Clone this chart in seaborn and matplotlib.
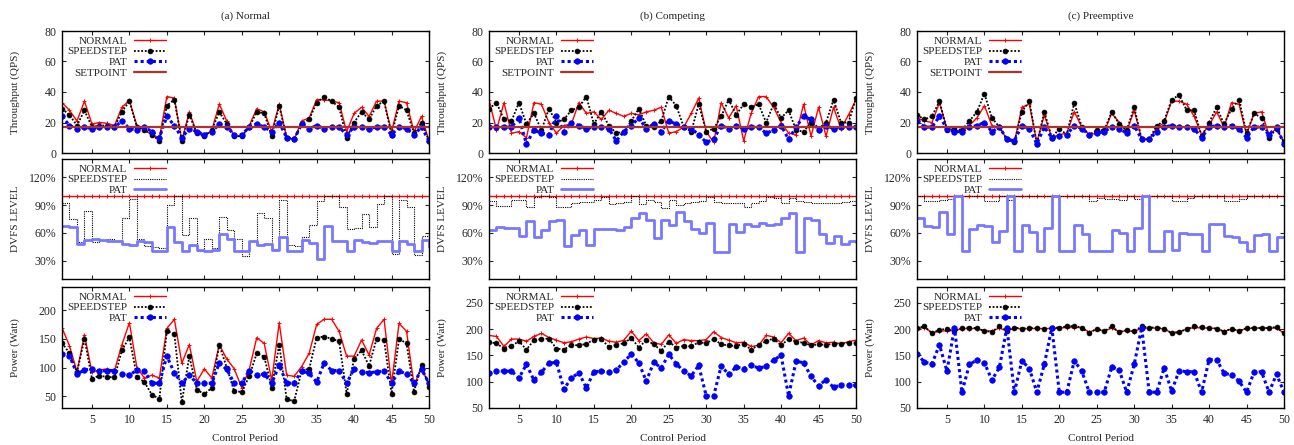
import matplotlib

matplotlib.use("Agg")
import matplotlib.pyplot as plt
import seaborn as sns
from matplotlib.ticker import FuncFormatter

periods = list(range(1, 51))
panel_titles = ["(a) Normal", "(b) Competing", "(c) Preemptive"]
setpoint_qps = 17

# ---- (a) Normal ----
thr_normal_a = [33, 28, 21, 34, 19, 20, 19.5, 18, 30, 34.5, 18, 15, 12, 10, 37, 36, 8, 27, 13, 11,
                15, 32, 21, 11, 11, 18, 29, 27, 14, 32, 10, 9, 21, 23, 35, 35, 34, 33, 14, 26,
                30, 24, 34, 34, 14, 34, 33, 14, 24, 8]
thr_speed_a = [29, 25, 18, 28, 17, 18, 18, 17, 27, 34, 17, 15, 12, 8, 31, 35, 8, 25, 13, 11,
               15, 27, 19, 11, 11, 17, 27, 26, 11, 31, 10, 9, 19, 22, 33, 37, 34, 30, 10, 20,
               27, 22, 31, 34, 12, 31, 28, 13, 20, 8]
thr_pat_a = [24, 18, 16, 17, 16, 17, 17, 17, 21, 16, 15, 17, 14, 10, 24, 18, 10, 16, 14, 12,
             14, 19, 17, 12, 12, 17, 19, 17, 14, 20, 10, 9, 19, 16, 18, 16, 17, 17, 12, 17,
             17, 16, 17, 17, 12, 17, 16, 12, 17, 8]
dvfs_speed_a = [92, 75, 50, 84, 50, 52, 53, 51, 76, 97, 53, 45.5, 45, 44, 90, 100, 58, 76, 40, 53,
                43.5, 77, 63, 53, 35, 51.5, 82, 76, 42, 96, 47, 45.5, 55, 68.5, 94, 100, 100, 88, 64, 65,
                80, 66, 91, 100, 37, 96, 88, 36.5, 57, 57]
dvfs_pat_a = [67.5, 66, 48, 52.5, 53, 52, 51.5, 51, 48, 46.5, 51.5, 50, 40, 40, 66, 50, 40, 47, 41, 40,
              41, 59, 53, 40, 40, 51.5, 47, 48, 41, 56, 40, 40, 52, 49, 32, 67.5, 51.5, 51.5, 40, 52.5,
              50, 49, 51, 51, 40, 51.5, 48, 40, 52.5, 45]
pow_normal_a = [169, 138, 93, 157, 92, 96, 98, 95, 140, 178, 100, 82, 87, 82, 168, 184, 108, 140, 76, 98,
                82, 140, 115, 98, 65, 97, 152, 142, 78, 178, 87, 85, 102, 125, 175, 184, 184, 163, 120, 120,
                148, 122, 168, 184, 72, 177, 163, 70, 100, 70]
pow_speed_a = [143, 125, 92, 150, 81, 86, 84, 83, 130, 153, 84, 75, 53, 46, 164, 158, 40, 120, 62, 54,
               65, 140, 100, 59, 58, 85, 125, 119, 65, 140, 45, 42, 95, 98, 152, 154, 150, 146, 55, 115,
               130, 103, 150, 148, 55, 150, 142, 58, 105, 67]
pow_pat_a = [124, 121, 89, 96, 98, 94, 95, 95, 89, 87, 96, 94, 73, 73, 120, 91, 73, 87, 73, 73,
             73, 108, 97, 73, 73, 95, 87, 89, 73, 104, 73, 73, 95, 90, 75, 108, 95, 95, 73, 98,
             93, 91, 93, 94, 73, 94, 89, 73, 97, 73]

# ---- (b) Competing ----
thr_normal_b = [35, 15, 33, 13, 14, 10, 33, 32, 20, 13, 18, 19, 33, 26, 27, 22, 28, 26, 24, 26,
                25, 27, 28, 30, 13, 14, 17, 26, 36, 14, 7, 33, 23, 31, 8, 26, 37, 37, 30, 20,
                13, 12, 32, 11, 30, 11, 30, 16, 25, 35]
thr_speed_b = [29, 33, 22, 21, 33, 19, 26, 15, 29, 20, 22, 28, 30, 37, 19, 27, 18, 13, 14, 21,
               29, 18, 17, 21, 37, 31, 17, 14, 32, 14, 16, 24, 35, 25, 32, 30, 32, 20, 32, 23,
               28, 15, 14, 20, 16, 20, 35, 20, 20, 36]
thr_pat_b = [17, 17, 17, 17, 23, 6, 15, 13, 12, 24, 14, 20, 18, 16, 17, 17, 16, 8, 14, 18,
             23, 16, 19, 14, 21, 19, 17, 16, 12, 7, 9, 18, 16, 18, 16, 17, 17, 13, 15, 18,
             9, 17, 24, 22, 15, 18, 16, 17, 17, 17]
dvfs_speed_b = [95, 89, 89, 96, 96, 87.5, 99, 100, 99, 88, 87.5, 92.5, 93, 93.5, 96, 99, 91, 92.5, 93.5, 100,
                91, 96, 93.5, 86.5, 96, 90, 92, 93.5, 94.5, 99, 93.5, 92.5, 92, 92, 88, 92.5, 95, 99, 98, 92,
                98, 95, 93.5, 92, 92, 92.5, 92, 93.5, 94.5, 94.5]
dvfs_pat_b = [63, 66, 65, 65, 57, 73, 55, 63, 73, 74, 46, 58, 63, 47, 64, 64, 64, 63, 66, 76,
              82, 74, 54, 74, 68.5, 83, 73, 64, 60, 71, 39, 39, 70, 61, 69.5, 67.5, 71, 68, 69.5, 76,
              82, 39, 76, 74, 59, 49, 57, 48, 51, 50]
pow_normal_b = [188, 186, 167, 181, 181, 177, 186, 192, 184, 179, 174, 176, 181, 185, 182, 183, 177, 175, 179, 196,
                178, 191, 174, 171, 189, 173, 180, 178, 178, 180, 195, 184, 179, 174, 175, 167, 169, 188, 185, 174,
                192, 178, 183, 170, 178, 174, 175, 172, 176, 179]
pow_speed_b = [175, 173, 163, 168, 177, 161, 179, 181, 182, 163, 161, 170, 169, 172, 180, 181, 166, 170, 173, 183,
               165, 179, 171, 159, 176, 165, 168, 167, 175, 173, 181, 171, 169, 168, 172, 161, 170, 177, 182, 169,
               181, 176, 174, 169, 171, 170, 172, 172, 174, 174]
pow_pat_b = [116, 121, 120, 120, 107, 133, 103, 118, 135, 137, 86, 107, 117, 88, 119, 120, 118, 122, 138, 152,
             136, 101, 137, 126, 152, 134, 120, 111, 131, 73, 73, 130, 114, 128, 125, 131, 126, 129, 141, 150,
             73, 139, 136, 110, 92, 104, 89, 94, 93, 93]

# ---- (c) Preemptive ----
thr_normal_c = [23, 21, 20, 33, 16, 15, 14, 18, 23, 31, 18, 17, 9, 7, 30, 32, 7, 25, 10, 12,
                13, 27, 17, 12, 13, 14, 26, 20, 14, 28, 9, 9, 16, 20, 34, 34, 32, 24, 12, 18,
                27, 17, 33, 32, 12, 26, 27, 12, 16, 7]
thr_speed_c = [25, 22, 24, 34, 15, 16, 15, 21, 27, 39, 23, 17, 9, 7, 27, 34, 6, 27, 10, 16,
               12, 33, 17, 12, 15, 15, 27, 19, 15, 30, 9, 9, 18, 21, 35, 38, 28, 28, 11, 20,
               30, 19, 29, 35, 13, 26, 23, 10, 16, 7]
thr_pat_c = [21, 17, 17, 24, 16, 14, 14, 17, 18, 20, 14, 17, 9, 8, 18, 16, 6, 17, 10, 11,
             12, 18, 16, 12, 13, 14, 17, 16, 13, 18, 9, 9, 14, 17, 18, 17, 17, 16, 10, 17,
             18, 17, 18, 16, 10, 17, 17, 12, 17, 6]
dvfs_speed_c = [100, 95, 95, 96, 97, 100, 100, 100, 100, 95, 95, 100, 96, 100, 100, 100, 100, 100, 100, 100,
                100, 100, 100, 94, 98, 97, 97, 96, 100, 97, 100, 100, 100, 100, 95, 95, 98, 100, 100, 100,
                100, 95, 95, 97, 100, 100, 100, 100, 100, 100]
dvfs_pat_c = [76, 67, 66, 83, 59, 100, 40, 64, 69, 67, 50.5, 62.5, 100, 40, 68.5, 60.5, 40, 65.5, 100, 40,
              40, 69, 59, 40, 40, 40, 63, 60, 40, 65.5, 100, 40, 40, 62, 41, 60, 59, 59, 40, 69.5,
              70, 57, 55, 50, 40, 58, 59, 40, 56, 56]
pow_normal_c = [201, 203, 193, 196, 197, 197, 201, 201, 201, 197, 196, 202, 196, 202, 200, 201, 201, 201, 201, 202,
                203, 203, 203, 194, 200, 196, 202, 195, 197, 195, 202, 202, 202, 200, 193, 195, 200, 203, 202, 202,
                201, 196, 200, 197, 201, 202, 202, 202, 202, 192]
pow_speed_c = [202, 205, 192, 199, 200, 196, 202, 203, 202, 196, 195, 205, 197, 203, 201, 202, 202, 200, 202, 203,
               205, 206, 203, 192, 201, 196, 205, 194, 198, 196, 205, 203, 203, 201, 192, 194, 200, 205, 204, 202,
               201, 195, 201, 196, 202, 202, 202, 202, 204, 192]
pow_pat_c = [153, 137, 134, 170, 120, 203, 80, 133, 141, 136, 103, 127, 203, 80, 140, 125, 80, 133, 203, 80,
             80, 140, 120, 80, 80, 80, 128, 122, 80, 133, 203, 80, 80, 126, 82, 121, 119, 119, 80, 142,
             142, 116, 113, 101, 80, 118, 119, 80, 114, 80]

dvfs_normal = [100] * 50

RED = "#ff0000"
BLUE = "#0000ff"
LIGHT_BLUE = "#7878ff"
SETPOINT_RED = "#b0302c"
FS = 8

sns.set_style("ticks")
plt.rcParams["font.family"] = ["Liberation Serif", "DejaVu Serif"]

W, H = 1294, 445
fig = plt.figure(figsize=(W / 100, H / 100), dpi=100)

col_left = [62, 489, 917]
col_width = 367
row_top = [31, 159, 287]
row_height = [122, 120, 121]


def px_axes(left, top, width, height):
    return fig.add_axes([left / W, 1 - (top + height) / H, width / W, height / H])


def style_axes(ax, show_x):
    ax.set_xlim(1, 50)
    ax.set_xticks(range(5, 51, 5))
    ax.tick_params(direction="in", top=True, right=True, length=3, width=0.8,
                   labelsize=8.5, labelbottom=show_x, pad=4)
    for s in ax.spines.values():
        s.set_linewidth(1.0)
        s.set_color("black")
    ax.yaxis.set_label_coords(-0.115, 0.5)
    ax.set_xlabel("Control Period" if show_x else "", fontsize=FS, labelpad=6)


def add_legend(ax):
    ax.legend(loc="upper left", frameon=False, markerfirst=False, fontsize=FS,
              handlelength=2.9, handletextpad=0.6, labelspacing=0.08,
              borderaxespad=0.25, borderpad=0.2)


def draw_normal(ax, y, step=False):
    sns.lineplot(x=periods, y=y, ax=ax, color=RED, linewidth=1.0, marker="+",
                 markersize=3, markeredgecolor=RED, markeredgewidth=0.7,
                 drawstyle="steps-post" if step else "default", label="NORMAL")


def draw_points(ax, y, color, lw, ms, label):
    sns.lineplot(x=periods, y=y, ax=ax, color=color, linewidth=lw, linestyle=(0, (1, 1)),
                 marker="o", markersize=ms, markeredgecolor=color, markeredgewidth=0.5,
                 label=label)


panels = [
    (thr_normal_a, thr_speed_a, thr_pat_a, dvfs_speed_a, dvfs_pat_a,
     pow_normal_a, pow_speed_a, pow_pat_a, (30, 240), [50, 100, 150, 200]),
    (thr_normal_b, thr_speed_b, thr_pat_b, dvfs_speed_b, dvfs_pat_b,
     pow_normal_b, pow_speed_b, pow_pat_b, (50, 280), [50, 100, 150, 200, 250]),
    (thr_normal_c, thr_speed_c, thr_pat_c, dvfs_speed_c, dvfs_pat_c,
     pow_normal_c, pow_speed_c, pow_pat_c, (50, 280), [50, 100, 150, 200, 250]),
]

for col, (t_n, t_s, t_p, d_s, d_p, p_n, p_s, p_p, p_lim, p_ticks) in enumerate(panels):
    left = col_left[col]

    # throughput
    ax = px_axes(left, row_top[0], col_width, row_height[0])
    draw_normal(ax, t_n)
    draw_points(ax, t_s, "black", 1.3, 3.5, "SPEEDSTEP")
    draw_points(ax, t_p, BLUE, 2.2, 4, "PAT")
    sns.lineplot(x=periods, y=[setpoint_qps] * len(periods), ax=ax, color=SETPOINT_RED,
                 linewidth=1.6, label="SETPOINT")
    ax.set_ylim(0, 80)
    ax.set_yticks([0, 20, 40, 60, 80])
    ax.set_ylabel("Throughput (QPS)", fontsize=FS)
    ax.set_title(panel_titles[col], fontsize=FS, pad=9)
    style_axes(ax, False)
    add_legend(ax)

    # DVFS level
    ax = px_axes(left, row_top[1], col_width, row_height[1])
    draw_normal(ax, dvfs_normal, step=True)
    sns.lineplot(x=periods, y=d_s, ax=ax, color="black", linewidth=0.8,
                 linestyle=(0, (1, 1)), drawstyle="steps-post", label="SPEEDSTEP")
    sns.lineplot(x=periods, y=d_p, ax=ax, color=LIGHT_BLUE, linewidth=2.0,
                 drawstyle="steps-post", label="PAT")
    ax.set_ylim(10, 140)
    ax.set_yticks([30, 60, 90, 120])
    ax.yaxis.set_major_formatter(FuncFormatter(lambda v, _: f"{v:.0f}%"))
    ax.set_ylabel("DVFS LEVEL", fontsize=FS)
    style_axes(ax, False)
    add_legend(ax)

    # power
    ax = px_axes(left, row_top[2], col_width, row_height[2])
    draw_normal(ax, p_n)
    draw_points(ax, p_s, "black", 1.3, 3.5, "SPEEDSTEP")
    draw_points(ax, p_p, BLUE, 2.2, 4, "PAT")
    ax.set_ylim(*p_lim)
    ax.set_yticks(p_ticks)
    ax.set_ylabel("Power (Watt)", fontsize=FS)
    style_axes(ax, True)
    add_legend(ax)

fig.savefig("out.png", dpi=100)
